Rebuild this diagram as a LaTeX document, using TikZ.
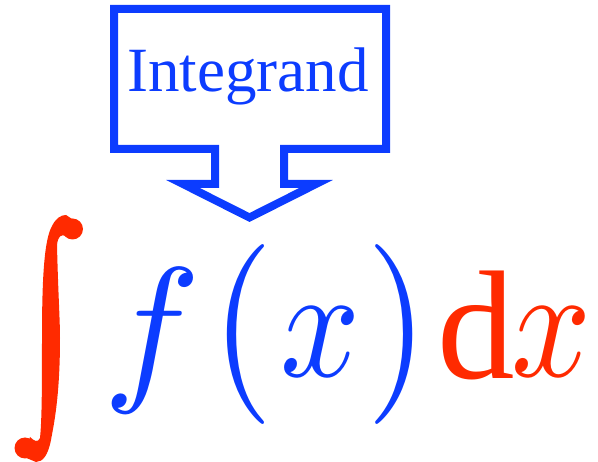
\documentclass[tikz,border=0pt]{standalone}
\usepackage{fontspec}
\newfontfamily\tnr{Liberation Serif}
\definecolor{cblue}{RGB}{12,60,255}
\definecolor{cred}{RGB}{255,42,0}
\begin{document}
\begin{tikzpicture}[x=1pt,y=-1pt,
  glyph/.style={inner sep=0pt,outer sep=0pt},
  callout/.style={draw=cblue,line width=8pt,miter limit=10}]
\useasboundingbox (0,0) rectangle (598,462);
% callout
\draw[callout] (114,9) -- (386,9) -- (386,149) -- (284,149) -- (284,184) -- (316,184)
  -- (249.5,217.5) -- (183,184) -- (215,184) -- (215,149) -- (114,149) -- cycle;
\node[inner sep=0pt,anchor=base,text=cblue,font=\tnr\fontsize{63}{70}\selectfont] (lab) at (248,92) {Integrand};
% integral sign
\fill[cred] (42,338) .. controls (42,280) and (44,240) .. (52,226)
  .. controls (56,218) and (61,215) .. (66,215) -- (72,219) -- (66,236)
  .. controls (61,234) and (58,236) .. (57,245)
  .. controls (58,290) and (60,320) .. (60,338)
  .. controls (60,400) and (53,428) .. (51,440)
  .. controls (48,455) and (43,462) .. (36,462)
  -- (24,457) -- (30,437)
  .. controls (34,441) and (38,443) .. (40,438)
  .. controls (42,420) and (42,380) .. (42,338) -- cycle;
\fill[cred] (72.5,229) circle (10.5);
\fill[cred] (25,448) circle (10.5);
% formula
\node[glyph,anchor=base,text=cblue] (f) at (152,382) {\scalebox{16.3}{$f$}};
\node[glyph,anchor=center,text=cblue] (lp) at (243,335) {\scalebox{16}[18]{(}};
\node[glyph,anchor=base,text=cblue] (x1) at (320.5,377) {\scalebox{14}[16]{$x$}};
\node[glyph,anchor=center,text=cblue] (rp) at (397.5,335) {\scalebox{16}[18]{)}};
\node[glyph,anchor=base,text=cred] (d) at (476.5,379) {\scalebox{15.5}{\tnr d}};
\node[glyph,anchor=base,text=cred] (x2) at (551.5,377) {\scalebox{14}[16]{$x$}};
\end{tikzpicture}
\end{document}
